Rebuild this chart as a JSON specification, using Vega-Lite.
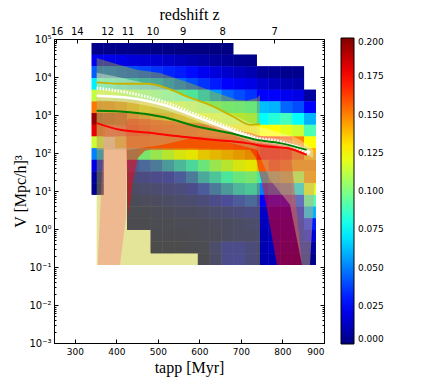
{
  "$schema": "https://vega.github.io/schema/vega-lite/v6.json",
  "width": 270,
  "height": 304,
  "autosize": {"type": "none"},
  "padding": {"left": 54, "top": 39, "right": 112, "bottom": 39},
  "background": "white",
  "datasets": {
    "cols": [
      {"i":0,"t0":340.8,"t1":369.2},{"i":1,"t0":369.2,"t1":397.6},{"i":2,"t0":397.6,"t1":426},{"i":3,"t0":426,"t1":454.4},
      {"i":4,"t0":454.4,"t1":482.8},{"i":5,"t0":482.8,"t1":511.2},{"i":6,"t0":511.2,"t1":539.6},{"i":7,"t0":539.6,"t1":568},
      {"i":8,"t0":568,"t1":596.4},{"i":9,"t0":596.4,"t1":624.8},{"i":10,"t0":624.8,"t1":653.2},{"i":11,"t0":653.2,"t1":681.6},
      {"i":12,"t0":681.6,"t1":710},{"i":13,"t0":710,"t1":738.4},{"i":14,"t0":738.4,"t1":766.8},{"i":15,"t0":766.8,"t1":795.2},
      {"i":16,"t0":795.2,"t1":823.6},{"i":17,"t0":823.6,"t1":852},{"i":18,"t0":852,"t1":880.4}
    ],
    "rows": [
      {"k":0,"v1":78480,"v0":38660},{"k":1,"v1":38660,"v0":19050},{"k":2,"v1":19050,"v0":9385},{"k":3,"v1":9385,"v0":4624},
      {"k":4,"v1":4624,"v0":2278},{"k":5,"v1":2278,"v0":1123},{"k":6,"v1":1123,"v0":553},{"k":7,"v1":553,"v0":272.5},
      {"k":8,"v1":272.5,"v0":134.3},{"k":9,"v1":134.3,"v0":66.2},{"k":10,"v1":66.2,"v0":32.6},{"k":11,"v1":32.6,"v0":16.06},
      {"k":12,"v1":16.06,"v0":7.91},{"k":13,"v1":7.91,"v0":3.9},{"k":14,"v1":3.9,"v0":1.921},{"k":15,"v1":1.921,"v0":0.947},
      {"k":16,"v1":0.947,"v0":0.4665},{"k":17,"v1":0.4665,"v0":0.2298},{"k":18,"v1":0.2298,"v0":0.1132}
    ],
    "grid": [
      {"i":0,"k":[0,1,2,3,4,5,6,7,8,9,10,11,12],"c":[0.002,0.022,0.043,0.072,0.113,0.152,0.195,0.18,0.115,0.05,0.02,0.006,0.002]},
      {"i":1,"k":[0,1,2,3,4,5,6,7],"c":[0.002,0.021,0.044,0.07,0.11,0.15,0.19,0.175]},
      {"i":2,"k":[0,1,2,3,4,5,6,7,8],"c":[0.002,0.02,0.042,0.066,0.105,0.145,0.185,0.178,0.14]},
      {"i":3,"k":[0,1,2,3,4,5,6,7,8,9,10,11,12,13,14,15],"c":[0.002,0.018,0.04,0.062,0.1,0.135,0.16,0.17,0.15,0.08,0.03,0.015,0.008,0.004,0.002,0.001]},
      {"i":4,"k":[0,1,2,3,4,5,6,7,8,9,10,11,12,13,14,15],"c":[0.001,0.017,0.038,0.058,0.095,0.125,0.15,0.16,0.15,0.09,0.035,0.018,0.01,0.005,0.002,0.001]},
      {"i":5,"k":[0,1,2,3,4,5,6,7,8,9,10,11,12,13,14,15,16,17],"c":[0.001,0.016,0.035,0.055,0.09,0.12,0.14,0.15,0.145,0.1,0.04,0.02,0.012,0.006,0.003,0.002,0.001,0]},
      {"i":6,"k":[0,1,2,3,4,5,6,7,8,9,10,11,12,13,14,15,16,17],"c":[0.001,0.014,0.032,0.05,0.085,0.115,0.135,0.145,0.145,0.11,0.05,0.022,0.014,0.008,0.004,0.002,0.001,0]},
      {"i":7,"k":[0,1,2,3,4,5,6,7,8,9,10,11,12,13,14,15,16,17],"c":[0,0.012,0.03,0.045,0.08,0.11,0.13,0.14,0.145,0.12,0.06,0.03,0.016,0.01,0.005,0.003,0.001,0]},
      {"i":8,"k":[0,1,2,3,4,5,6,7,8,9,10,11,12,13,14,15,16,17],"c":[0,0.01,0.027,0.04,0.075,0.105,0.125,0.14,0.145,0.125,0.07,0.04,0.02,0.012,0.006,0.003,0.002,0.001]},
      {"i":9,"k":[0,1,2,3,4,5,6,7,8,9,10,11,12,13,14,15,16,17,18],"c":[0,0.008,0.022,0.035,0.065,0.1,0.12,0.135,0.145,0.135,0.085,0.055,0.03,0.015,0.008,0.004,0.003,0.002,0.001]},
      {"i":10,"k":[0,1,2,3,4,5,6,7,8,9,10,11,12,13,14,15,16,17,18],"c":[0,0.006,0.018,0.03,0.055,0.095,0.115,0.13,0.145,0.14,0.1,0.065,0.04,0.02,0.01,0.005,0.004,0.01,0.008]},
      {"i":11,"k":[0,1,2,3,4,5,6,7,8,9,10,11,12,13,14,15,16,17,18],"c":[0,0.005,0.015,0.025,0.045,0.09,0.11,0.13,0.145,0.145,0.11,0.075,0.05,0.025,0.012,0.006,0.006,0.02,0.02]},
      {"i":12,"k":[1,2,3,4,5,6,7,8,9,10,11,12,13,14,15,16,17,18],"c":[0.003,0.012,0.022,0.04,0.088,0.11,0.13,0.15,0.15,0.12,0.085,0.06,0.03,0.015,0.008,0.008,0.02,0.022]},
      {"i":13,"k":[1,2,3,4,5,6,7,8,9,10,11,12,13,14,15,16,17,18],"c":[0.002,0.01,0.02,0.035,0.085,0.105,0.13,0.15,0.155,0.125,0.09,0.065,0.035,0.018,0.01,0.008,0.015,0.015]},
      {"i":14,"k":[2,3,4,5,6,7,8,9,10,11,12,13,14,15,16,17,18],"c":[0.005,0.015,0.025,0.062,0.075,0.125,0.17,0.175,0.14,0.075,0.05,0.025,0.015,0.012,0.01,0.01,0.01]},
      {"i":15,"k":[2,3,4,5,6,7,8,9,10,11,12,13,14,15,16,17,18],"c":[0.004,0.012,0.025,0.06,0.082,0.125,0.165,0.175,0.16,0.09,0.055,0.03,0.015,0.012,0.012,0.012,0.01]},
      {"i":16,"k":[2,3,4,5,6,7,8,9,10,11,12,13,14,15,16,17,18],"c":[0.003,0.01,0.022,0.045,0.088,0.12,0.16,0.17,0.15,0.1,0.06,0.03,0.015,0.012,0.01,0.008,0.006]},
      {"i":17,"k":[2,3,4,5,6,7,8,9,10,11,12,13,14,15,16,17,18],"c":[0.003,0.008,0.02,0.04,0.075,0.115,0.15,0.16,0.15,0.11,0.07,0.035,0.018,0.012,0.01,0.008,0.005]},
      {"i":18,"k":[4,5,6,7,8,9,10,11,12,13,14,15,16,17,18],"c":[0.006,0.025,0.06,0.09,0.125,0.14,0.15,0.145,0.12,0.09,0.06,0.03,0.018,0.006,0.002]}
    ],
    "bands": [
      {"b":"y","t":352.8,"lo":0.113,"hi":31600},{"b":"y","t":392,"lo":0.113,"hi":23300},{"b":"y","t":449.1,"lo":0.113,"hi":15500},
      {"b":"y","t":505.2,"lo":0.113,"hi":12700},{"b":"y","t":577.4,"lo":0.113,"hi":6930},{"b":"y","t":632.8,"lo":0.113,"hi":4170},
      {"b":"y","t":689.8,"lo":0.113,"hi":2520},{"b":"y","t":713.9,"lo":0.113,"hi":2420},{"b":"y","t":738,"lo":0.113,"hi":2790},
      {"b":"y","t":745.9,"lo":0.113,"hi":3410},
      {"b":"p","t":355.2,"lo":0.113,"hi":0.113},{"b":"p","t":368,"lo":0.113,"hi":121},{"b":"p","t":375,"lo":0.113,"hi":560},
      {"b":"p","t":408.9,"lo":0.113,"hi":520},{"b":"p","t":423,"lo":1.94,"hi":500},{"b":"p","t":426,"lo":480,"hi":480},
      {"b":"r","t":423,"lo":612,"hi":612},{"b":"r","t":428,"lo":1.94,"hi":800},{"b":"r","t":440.2,"lo":19.5,"hi":800},
      {"b":"r","t":452.2,"lo":74.6,"hi":790},{"b":"r","t":469.1,"lo":114,"hi":780},{"b":"r","t":481.1,"lo":121,"hi":770},
      {"b":"r","t":601.5,"lo":121,"hi":600},{"b":"r","t":673.7,"lo":121,"hi":433},{"b":"r","t":721.9,"lo":121,"hi":340},
      {"b":"r","t":736.3,"lo":74.6,"hi":305},{"b":"r","t":750.8,"lo":14.5,"hi":270},{"b":"r","t":765.2,"lo":2.36,"hi":245},
      {"b":"r","t":786.9,"lo":0.113,"hi":225},{"b":"r","t":818.2,"lo":0.113,"hi":175},{"b":"r","t":847,"lo":0.113,"hi":0.113},
      {"b":"n","t":352.8,"lo":121,"hi":3210},{"b":"n","t":433,"lo":121,"hi":2790},{"b":"n","t":512.4,"lo":164,"hi":1980},
      {"b":"n","t":594.3,"lo":267,"hi":953},{"b":"n","t":673.7,"lo":185,"hi":434},{"b":"n","t":738.7,"lo":121,"hi":267},
      {"b":"n","t":770,"lo":19.7,"hi":251},{"b":"n","t":818.2,"lo":4.32,"hi":222},{"b":"n","t":847,"lo":0.113,"hi":164},
      {"b":"n","t":866.3,"lo":0.113,"hi":137},{"b":"n","t":880.7,"lo":66.2,"hi":89.5},
      {"b":"w","t":352.8,"lo":2400,"hi":12900},{"b":"w","t":433,"lo":2100,"hi":8470},{"b":"w","t":512.4,"lo":1400,"hi":5210},
      {"b":"w","t":594.3,"lo":700,"hi":2520},{"b":"w","t":673.7,"lo":320,"hi":1080},{"b":"w","t":738.7,"lo":185,"hi":520},
      {"b":"w","t":794.1,"lo":150,"hi":340},{"b":"w","t":842.2,"lo":110,"hi":222},{"b":"w","t":873.5,"lo":75,"hi":121}
    ],
    "curves": [
      {"s":"yl","t":352.8,"v":7190},{"s":"yl","t":408.9,"v":6640},{"s":"yl","t":473.2,"v":6640},{"s":"yl","t":521.3,"v":5120},
      {"s":"yl","t":569.5,"v":3080},{"s":"yl","t":632.8,"v":1680},{"s":"yl","t":680.9,"v":914},{"s":"yl","t":721.9,"v":552},
      {"s":"yl","t":745.9,"v":587},
      {"s":"wd","t":352.8,"v":5120},{"s":"wd","t":433,"v":3780},{"s":"wd","t":512.4,"v":2270},{"s":"wd","t":593.5,"v":1010},
      {"s":"wd","t":673.7,"v":460},{"s":"wd","t":738,"v":247},{"s":"wd","t":794.1,"v":201},{"s":"wd","t":866.3,"v":89.5},
      {"s":"ws","t":352.8,"v":3210},{"s":"ws","t":433,"v":2790},{"s":"ws","t":512.4,"v":1860},{"s":"ws","t":593.5,"v":881},
      {"s":"ws","t":673.7,"v":408},{"s":"ws","t":738,"v":232},{"s":"ws","t":794.1,"v":182},{"s":"ws","t":834.3,"v":148},
      {"s":"ws","t":866.3,"v":103},
      {"s":"gr","t":352.8,"v":1290},{"s":"gr","t":433,"v":1190},{"s":"gr","t":512.4,"v":881},{"s":"gr","t":593.5,"v":499},
      {"s":"gr","t":673.7,"v":334},{"s":"gr","t":738,"v":222},{"s":"gr","t":794.1,"v":182},{"s":"gr","t":858.3,"v":121},
      {"s":"rd","t":352.8,"v":612},{"s":"rd","t":408.9,"v":408},{"s":"rd","t":473.2,"v":347},{"s":"rd","t":553.3,"v":272},
      {"s":"rd","t":632.8,"v":222},{"s":"rd","t":713.9,"v":182},{"s":"rd","t":762.1,"v":148},{"s":"rd","t":810.2,"v":135},
      {"s":"rd","t":858.3,"v":89.5}
    ],
    "ztick": [
      {"t":256,"z":16},{"t":305,"z":14},{"t":378,"z":12},{"t":427,"z":11},{"t":487,"z":10},{"t":560,"z":9},{"t":655,"z":8},{"t":780,"z":7}
    ]
  },
  "layer": [
    {
      "layer": [
        {
          "data": {"name": "grid"},
          "transform": [
            {"flatten": ["k", "c"]},
            {"lookup": "i", "from": {"data": {"name": "cols"}, "key": "i", "fields": ["t0", "t1"]}},
            {"lookup": "k", "from": {"data": {"name": "rows"}, "key": "k", "fields": ["v0", "v1"]}}
          ],
          "mark": {"type": "rect", "clip": true},
          "encoding": {
            "x": {"field": "t0", "type": "quantitative", "title": "tapp [Myr]",
                  "scale": {"domain": [250, 900], "nice": false, "zero": false},
                  "axis": {"values": [300, 400, 500, 600, 700, 800, 900], "tickSize": -4, "labelPadding": 8, "titlePadding": 3}},
            "x2": {"field": "t1"},
            "y": {"field": "v0", "type": "quantitative", "title": "V [Mpc/h]³",
                  "scale": {"type": "log", "domain": [0.001, 100000], "nice": false},
                  "axis": {
                    "values": [0.001,0.002,0.003,0.004,0.005,0.006,0.007,0.008,0.009,0.01,0.02,0.03,0.04,0.05,0.06,0.07,0.08,0.09,0.1,0.2,0.3,0.4,0.5,0.6,0.7,0.8,0.9,1,2,3,4,5,6,7,8,9,10,20,30,40,50,60,70,80,90,100,200,300,400,500,600,700,800,900,1000,2000,3000,4000,5000,6000,7000,8000,9000,10000,20000,30000,40000,50000,60000,70000,80000,90000,100000],
                    "labelExpr": "abs(log(datum.value)/LN10 - round(log(datum.value)/LN10)) < 0.001 ? '10' + ['⁻³','⁻²','⁻¹','⁰','¹','²','³','⁴','⁵'][round(log(datum.value)/LN10) + 3] : ''",
                    "tickSize": {"condition": {"test": "abs(log(datum.value)/LN10 - round(log(datum.value)/LN10)) < 0.001", "value": -4}, "value": -2},
                    "labelPadding": 7, "titlePadding": 0, "labelOverlap": false, "labelFontSize": 10}},
            "y2": {"field": "v1"},
            "color": {"field": "c", "type": "quantitative",
                      "scale": {"domain": [0, 0.025, 0.05, 0.075, 0.1, 0.125, 0.15, 0.175, 0.2],
                                "range": ["#000080", "#0000ff", "#0080ff", "#00ffff", "#80ff80", "#ffff00", "#ff8000", "#ff0000", "#800000"],
                                "interpolate": "rgb"},
                      "legend": {"type": "gradient", "orient": "none", "legendX": 287, "legendY": -1, "title": null,
                                 "gradientLength": 306, "gradientThickness": 13,
                                 "values": [0, 0.025, 0.05, 0.075, 0.1, 0.125, 0.15, 0.175, 0.2], "format": ".3f",
                                 "labelFont": "DejaVu Sans", "labelFontSize": 9, "labelColor": "black", "labelOffset": 4,
                                 "gradientStrokeColor": "black", "gradientStrokeWidth": 1, "direction": "vertical"}}
          }
        },
        {
          "data": {"name": "grid"},
          "transform": [
            {"flatten": ["k", "c"]},
            {"lookup": "i", "from": {"data": {"name": "cols"}, "key": "i", "fields": ["t0", "t1"]}},
            {"lookup": "k", "from": {"data": {"name": "rows"}, "key": "k", "fields": ["v0", "v1"]}}
          ],
          "mark": {"type": "rect", "clip": true},
          "encoding": {
            "x": {"field": "t0", "type": "quantitative", "title": "tapp [Myr]"},
            "x2": {"field": "t1"},
            "y": {"field": "v0", "type": "quantitative", "title": "V [Mpc/h]³"},
            "y2": {"field": "v1"},
            "color": {"field": "c", "type": "quantitative"}
          }
        },
        {
          "data": {"name": "bands"},
          "transform": [{"filter": "datum.b == 'y'"}],
          "mark": {"type": "area", "color": "#bfbf00", "opacity": 0.4},
          "encoding": {
            "x": {"field": "t", "type": "quantitative", "title": "tapp [Myr]"},
            "y": {"field": "lo", "type": "quantitative", "title": "V [Mpc/h]³"},
            "y2": {"field": "hi"}
          }
        },
        {
          "data": {"name": "bands"},
          "transform": [{"filter": "datum.b == 'p'"}],
          "mark": {"type": "area", "color": "#ff6480", "opacity": 0.35},
          "encoding": {
            "x": {"field": "t", "type": "quantitative", "title": "tapp [Myr]"},
            "y": {"field": "lo", "type": "quantitative", "title": "V [Mpc/h]³"},
            "y2": {"field": "hi"}
          }
        },
        {
          "data": {"name": "bands"},
          "transform": [{"filter": "datum.b == 'r'"}],
          "mark": {"type": "area", "color": "#ff0000", "opacity": 0.5},
          "encoding": {
            "x": {"field": "t", "type": "quantitative", "title": "tapp [Myr]"},
            "y": {"field": "lo", "type": "quantitative", "title": "V [Mpc/h]³"},
            "y2": {"field": "hi"}
          }
        },
        {
          "data": {"name": "bands"},
          "transform": [{"filter": "datum.b == 'n'"}],
          "mark": {"type": "area", "color": "#c8aa78", "opacity": 0.5},
          "encoding": {
            "x": {"field": "t", "type": "quantitative", "title": "tapp [Myr]"},
            "y": {"field": "lo", "type": "quantitative", "title": "V [Mpc/h]³"},
            "y2": {"field": "hi"}
          }
        },
        {
          "data": {"name": "bands"},
          "transform": [{"filter": "datum.b == 'w'"}],
          "mark": {"type": "area", "color": "#ffffd8", "opacity": 0.4, "interpolate": "monotone"},
          "encoding": {
            "x": {"field": "t", "type": "quantitative", "title": "tapp [Myr]"},
            "y": {"field": "lo", "type": "quantitative", "title": "V [Mpc/h]³"},
            "y2": {"field": "hi"}
          }
        },
        {
          "data": {"name": "curves"},
          "transform": [{"filter": "datum.s == 'yl'"}],
          "mark": {"type": "line", "color": "#c8b400", "strokeWidth": 1.8, "interpolate": "monotone"},
          "encoding": {
            "x": {"field": "t", "type": "quantitative", "title": "tapp [Myr]"},
            "y": {"field": "v", "type": "quantitative", "title": "V [Mpc/h]³"}
          }
        },
        {
          "data": {"name": "curves"},
          "transform": [{"filter": "datum.s == 'wd'"}],
          "mark": {"type": "line", "color": "#ffffff", "strokeWidth": 3, "strokeDash": [1.5, 1.5], "interpolate": "monotone"},
          "encoding": {
            "x": {"field": "t", "type": "quantitative", "title": "tapp [Myr]"},
            "y": {"field": "v", "type": "quantitative", "title": "V [Mpc/h]³"}
          }
        },
        {
          "data": {"name": "curves"},
          "transform": [{"filter": "datum.s == 'ws'"}],
          "mark": {"type": "line", "color": "#ffffff", "strokeWidth": 2.5, "interpolate": "monotone"},
          "encoding": {
            "x": {"field": "t", "type": "quantitative", "title": "tapp [Myr]"},
            "y": {"field": "v", "type": "quantitative", "title": "V [Mpc/h]³"}
          }
        },
        {
          "data": {"name": "curves"},
          "transform": [{"filter": "datum.s == 'gr'"}],
          "mark": {"type": "line", "color": "#008000", "strokeWidth": 2, "interpolate": "monotone"},
          "encoding": {
            "x": {"field": "t", "type": "quantitative", "title": "tapp [Myr]"},
            "y": {"field": "v", "type": "quantitative", "title": "V [Mpc/h]³"}
          }
        },
        {
          "data": {"name": "curves"},
          "transform": [{"filter": "datum.s == 'rd'"}],
          "mark": {"type": "line", "color": "#ff0000", "strokeWidth": 2, "interpolate": "monotone"},
          "encoding": {
            "x": {"field": "t", "type": "quantitative", "title": "tapp [Myr]"},
            "y": {"field": "v", "type": "quantitative", "title": "V [Mpc/h]³"}
          }
        }
      ]
    },
    {
      "data": {"name": "ztick"},
      "mark": {"type": "point", "opacity": 0},
      "encoding": {
        "x": {"field": "t", "type": "quantitative", "title": "redshift z",
              "scale": {"domain": [250, 900], "nice": false, "zero": false},
              "axis": {"orient": "top", "values": [256, 305, 378, 427, 487, 560, 655, 780],
                       "labelExpr": "datum.value < 280 ? '16' : datum.value < 340 ? '14' : datum.value < 400 ? '12' : datum.value < 450 ? '11' : datum.value < 520 ? '10' : datum.value < 600 ? '9' : datum.value < 700 ? '8' : '7'",
                       "tickSize": -4, "labelPadding": 7, "titlePadding": 4, "labelFontSize": 10}},
        "y": {"datum": 1, "type": "quantitative", "title": null,
              "scale": {"type": "log", "domain": [0.001, 100000], "nice": false},
              "axis": {"orient": "right", "labels": false,
                       "values": [0.001,0.002,0.003,0.004,0.005,0.006,0.007,0.008,0.009,0.01,0.02,0.03,0.04,0.05,0.06,0.07,0.08,0.09,0.1,0.2,0.3,0.4,0.5,0.6,0.7,0.8,0.9,1,2,3,4,5,6,7,8,9,10,20,30,40,50,60,70,80,90,100,200,300,400,500,600,700,800,900,1000,2000,3000,4000,5000,6000,7000,8000,9000,10000,20000,30000,40000,50000,60000,70000,80000,90000,100000],
                       "tickSize": {"condition": {"test": "abs(log(datum.value)/LN10 - round(log(datum.value)/LN10)) < 0.001", "value": -4}, "value": -2}}}
      }
    }
  ],
  "resolve": {"scale": {"x": "independent", "y": "independent"}},
  "config": {
    "view": {"stroke": "black", "strokeWidth": 1},
    "axis": {"labelFont": "DejaVu Sans", "labelFontSize": 9, "labelColor": "black",
             "titleFont": "Liberation Serif", "titleFontSize": 16, "titleFontWeight": "normal", "titleColor": "black",
             "tickColor": "black", "domainColor": "black", "grid": false}
  }
}
